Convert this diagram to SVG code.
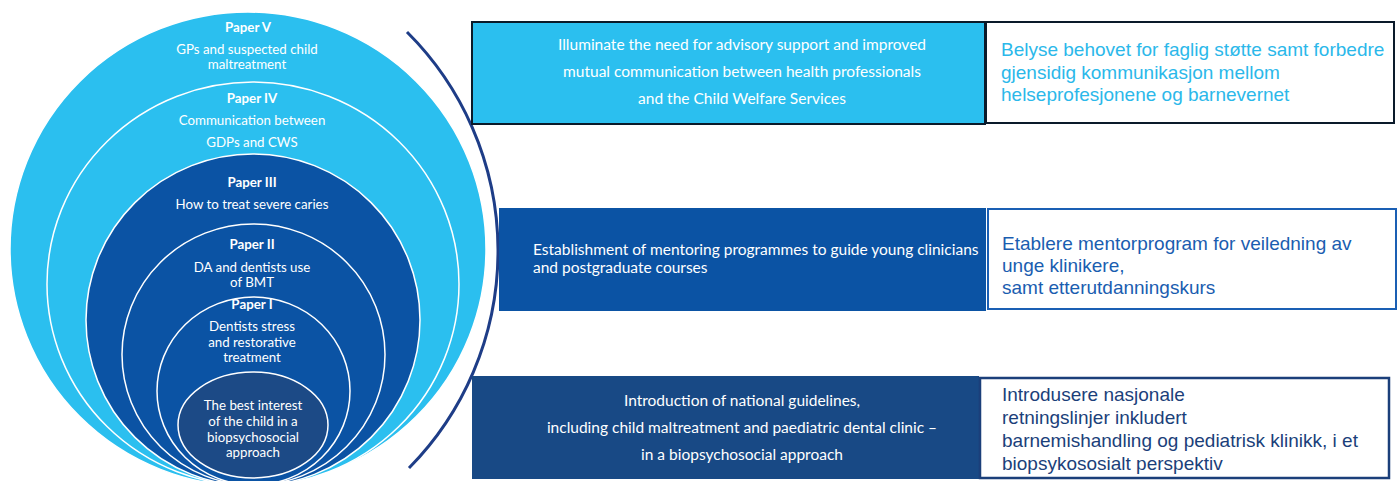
<svg xmlns="http://www.w3.org/2000/svg" width="1400" height="481" viewBox="0 0 1400 481">
<style>
.ring{stroke:#ffffff;stroke-width:1.5}
.lb{fill:#2bbfef}
.db{fill:#0b53a4}
.nv{fill:#1c4a86}
.ct{font-family:Lato,"Open Sans",sans-serif;font-size:13.3px;fill:#ffffff;text-anchor:middle}
.cb{font-weight:bold}
.bt{font-family:Lato,"Open Sans",sans-serif;font-size:15.5px;fill:#ffffff}
.rt{font-family:"Liberation Sans",Arial,sans-serif;font-size:19px}
</style>
<rect width="1400" height="481" fill="#ffffff"/>
<g id="circles">
<g id="paper5"><ellipse class="ring lb" cx="248" cy="249" rx="238" ry="237"/>
<text class="ct cb" x="248" y="32">Paper V</text>
<text class="ct" x="247" y="54">GPs and suspected child</text>
<text class="ct" x="247" y="69">maltreatment</text></g>
<g id="paper4"><ellipse class="ring lb" cx="253" cy="284" rx="206" ry="202"/>
<text class="ct cb" x="252" y="103">Paper IV</text>
<text class="ct" x="252" y="125">Communication between</text>
<text class="ct" x="252" y="147">GDPs and CWS</text></g>
<g id="paper3"><ellipse class="ring db" cx="253" cy="320" rx="167" ry="166"/>
<text class="ct cb" x="252" y="187">Paper III</text>
<text class="ct" x="252" y="209">How to treat severe caries</text></g>
<g id="paper2"><ellipse class="ring db" cx="253.5" cy="354.5" rx="131.5" ry="130.5"/>
<text class="ct cb" x="252" y="249">Paper II</text>
<text class="ct" x="252" y="272">DA and dentists use</text>
<text class="ct" x="252" y="287">of BMT</text></g>
<g id="paper1"><ellipse class="ring db" cx="253.5" cy="391" rx="96.5" ry="94"/>
<text class="ct cb" x="252" y="309">Paper I</text>
<text class="ct" x="252" y="331">Dentists stress</text>
<text class="ct" x="252" y="347">and restorative</text>
<text class="ct" x="252" y="362">treatment</text></g>
<g id="core"><ellipse class="ring nv" cx="253" cy="425" rx="75" ry="53"/>
<text class="ct" x="253" y="410">The best interest</text>
<text class="ct" x="253" y="426">of the child in a</text>
<text class="ct" x="253" y="442">biopsychosocial</text>
<text class="ct" x="253" y="457">approach</text></g>
</g>
<g id="connectors">
<path d="M407,32 A309,309 0 0,1 409,468" fill="none" stroke="#1e3d87" stroke-width="3"/>
</g>
<g id="box1">
<rect x="472" y="22" width="513" height="102" fill="#2bbfef" stroke="#0a1a2a" stroke-width="2"/>
<text class="bt" x="742" y="50" text-anchor="middle">Illuminate the need for advisory support and  improved</text>
<text class="bt" x="742" y="77" text-anchor="middle">mutual communication between health professionals</text>
<text class="bt" x="742" y="104" text-anchor="middle">and the Child Welfare Services</text>
</g>
<g id="box1n">
<rect x="986" y="22" width="408" height="101" fill="#ffffff" stroke="#0a1a2a" stroke-width="2"/>
<text class="rt" fill="#2bb8ea" x="1001" y="56">Belyse behovet for faglig støtte samt forbedre</text>
<text class="rt" fill="#2bb8ea" x="1001" y="78.5">gjensidig kommunikasjon mellom</text>
<text class="rt" fill="#2bb8ea" x="1001" y="101">helseprofesjonene og barnevernet</text>
</g>
<g id="box2">
<rect x="499" y="208" width="487" height="103" fill="#0b53a4"/>
<text class="bt" x="533" y="255">Establishment of mentoring programmes to guide young clinicians</text>
<text class="bt" x="533" y="273">and postgraduate courses</text>
</g>
<g id="box2n">
<rect x="988" y="209" width="408" height="100" fill="#ffffff" stroke="#1a5fb4" stroke-width="2"/>
<text class="rt" fill="#1a5db0" x="1002" y="250">Etablere mentorprogram for veiledning av</text>
<text class="rt" fill="#1a5db0" x="1002" y="272">unge klinikere,</text>
<text class="rt" fill="#1a5db0" x="1002" y="294">samt etterutdanningskurs</text>
</g>
<g id="box3">
<rect x="472" y="376" width="507" height="103" fill="#184985"/>
<text class="bt" x="742" y="406" text-anchor="middle">Introduction of national guidelines,</text>
<text class="bt" x="742" y="433" text-anchor="middle">including child maltreatment and paediatric dental clinic –</text>
<text class="bt" x="742" y="460" text-anchor="middle">in a biopsychosocial approach</text>
</g>
<g id="box3n">
<rect x="980" y="378" width="409" height="100" fill="#ffffff" stroke="#1b3f7a" stroke-width="2.5"/>
<text class="rt" fill="#1b3f7a" x="1002" y="401">Introdusere nasjonale</text>
<text class="rt" fill="#1b3f7a" x="1002" y="424">retningslinjer inkludert</text>
<text class="rt" fill="#1b3f7a" x="1002" y="447">barnemishandling og pediatrisk klinikk, i et</text>
<text class="rt" fill="#1b3f7a" x="1002" y="470">biopsykososialt perspektiv</text>
</g>
</svg>
